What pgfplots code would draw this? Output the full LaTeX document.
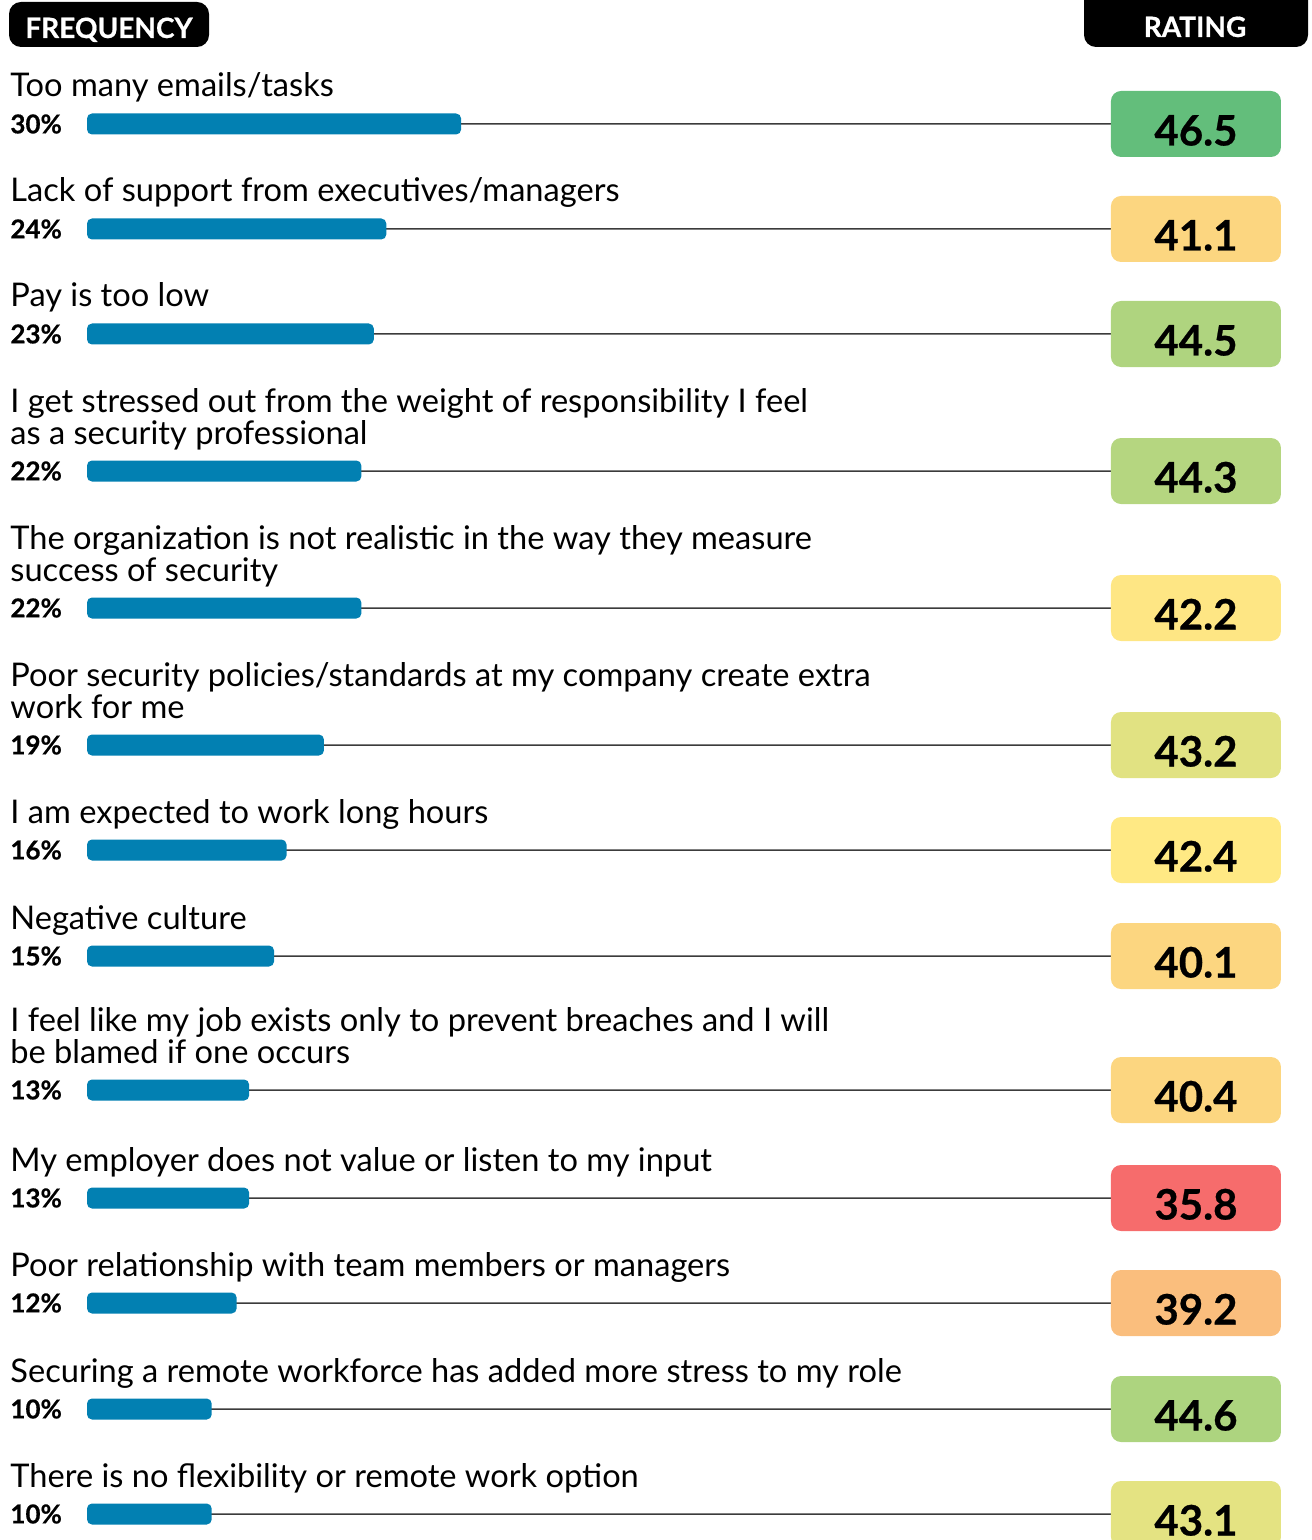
\documentclass[border=0pt]{standalone}
\usepackage{pgfplots}
\pgfplotsset{compat=1.18}
\usepackage{pgfplotstable}
\usepackage{fontspec}
\setmainfont{Lato}
\newfontfamily\heavy{Lato}[UprightFeatures={FakeBold=0.6}, BoldFeatures={FakeBold=0.6}]
\definecolor{barblue}{RGB}{2,128,178}
\definecolor{lineg}{RGB}{60,60,60}
\definecolor{c1}{RGB}{99,190,123}
\definecolor{c2}{RGB}{252,214,128}
\definecolor{c3}{RGB}{175,212,127}
\definecolor{c4}{RGB}{181,214,128}
\definecolor{c5}{RGB}{254,230,132}
\definecolor{c6}{RGB}{225,226,130}
\definecolor{c7}{RGB}{255,233,132}
\definecolor{c8}{RGB}{252,214,128}
\definecolor{c9}{RGB}{252,214,128}
\definecolor{c10}{RGB}{246,108,108}
\definecolor{c11}{RGB}{250,190,125}
\definecolor{c12}{RGB}{173,212,127}
\definecolor{c13}{RGB}{228,227,130}
\newcommand{\lab}{\fontsize{16.3}{17}\selectfont}
\pgfplotstableread{
idx y pct rating lx bx
1 124 30 46.5 -6.175 88.93
2 229 24 41.1 -6.175 88.93
3 334 23 44.5 -6.175 88.93
4 471 22 44.3 -6.175 88.93
5 608 22 42.2 -6.175 88.93
6 745 19 43.2 -6.175 88.93
7 850 16 42.4 -6.175 88.93
8 956 15 40.1 -6.175 88.93
9 1090 13 40.4 -6.175 88.93
10 1198 13 35.8 -6.175 88.93
11 1303 12 39.2 -6.175 88.93
12 1409 10 44.6 -6.175 88.93
13 1514 10 43.1 -6.175 88.93
}\data
\begin{document}
\begin{tikzpicture}
\begin{axis}[
  width=655.5pt, height=770pt, scale only axis, hide axis, clip=false,
  xmin=-6.977, xmax=98.155, ymin=0, ymax=1540, y dir=reverse,
  /pgf/number format/assume math mode=true,
]
\coordinate (SW) at (rel axis cs:0,0);
\coordinate (NE) at (rel axis cs:1,1);
% connector lines
\addplot[xbar, bar shift=0pt, bar width=0.75pt, fill=lineg, draw=none] table[x=bx, y=y]{\data};
% frequency bars
\addplot[xbar, bar shift=0pt, bar width=10.5pt, fill=barblue, draw=none, rounded corners=2.5pt] table[x=pct, y=y]{\data};
% percent labels
\addplot[draw=none, mark=none, point meta=explicit,
  nodes near coords={\pgfmathprintnumber{\pgfplotspointmeta}\%},
  every node near coord/.append style={anchor=west, inner sep=0pt, text=black, font=\heavy\bfseries\fontsize{13}{14}\selectfont}]
  table[x=lx, y=y, meta=pct]{\data};
% rating boxes
\pgfplotsinvokeforeach{1,...,13}{%
\addplot[draw=none, mark=none, point meta=explicit,
  x filter/.expression={\thisrow{idx}==#1 ? x : nan},
  nodes near coords={\pgfmathprintnumber[fixed,fixed zerofill,precision=1]{\pgfplotspointmeta}},
  every node near coord/.append style={anchor=center, fill=c#1, rounded corners=5pt,
    inner sep=0pt, text height=21.5pt, text depth=0pt, minimum width=85pt, minimum height=33pt,
    text=black, font=\heavy\bfseries\fontsize{21}{22}\selectfont}]
  table[x=bx, y=y, meta=rating]{\data};
}
% headers
\fill[black, rounded corners=6pt] (axis cs:{(9-87)/12.47},2) rectangle (axis cs:{(209-87)/12.47},47);
\node[anchor=base, text=white, font=\heavy\bfseries\fontsize{14}{15}\selectfont] at (axis cs:{(109-87)/12.47},38) {FREQUENCY};
\fill[black, rounded corners=6pt] (axis cs:{(1084-87)/12.47},-30) rectangle (axis cs:{(1308-87)/12.47},47);
\node[anchor=base, text=white, font=\heavy\bfseries\fontsize{14}{15}\selectfont] at (axis cs:{(1195-87)/12.47},37) {RATING};
% category labels
\def\lx{-6.175}
\node[anchor=base west, inner sep=0pt, font=\lab] at (axis cs:\lx,97) {Too many emails/tasks};
\node[anchor=base west, inner sep=0pt, font=\lab] at (axis cs:\lx,202) {Lack of support from executives/managers};
\node[anchor=base west, inner sep=0pt, font=\lab] at (axis cs:\lx,307) {Pay is too low};
\node[anchor=base west, inner sep=0pt, font=\lab] at (axis cs:\lx,412) {I get stressed out from the weight of responsibility I feel};
\node[anchor=base west, inner sep=0pt, font=\lab] at (axis cs:\lx,444) {as a security professional};
\node[anchor=base west, inner sep=0pt, font=\lab] at (axis cs:\lx,549) {The organization is not realistic in the way they measure};
\node[anchor=base west, inner sep=0pt, font=\lab] at (axis cs:\lx,581) {success of security};
\node[anchor=base west, inner sep=0pt, font=\lab] at (axis cs:\lx,686) {Poor security policies/standards at my company create extra};
\node[anchor=base west, inner sep=0pt, font=\lab] at (axis cs:\lx,718) {work for me};
\node[anchor=base west, inner sep=0pt, font=\lab] at (axis cs:\lx,823) {I am expected to work long hours};
\node[anchor=base west, inner sep=0pt, font=\lab] at (axis cs:\lx,929) {Negative culture};
\node[anchor=base west, inner sep=0pt, font=\lab] at (axis cs:\lx,1031) {I feel like my job exists only to prevent breaches and I will};
\node[anchor=base west, inner sep=0pt, font=\lab] at (axis cs:\lx,1063) {be blamed if one occurs};
\node[anchor=base west, inner sep=0pt, font=\lab] at (axis cs:\lx,1171) {My employer does not value or listen to my input};
\node[anchor=base west, inner sep=0pt, font=\lab] at (axis cs:\lx,1276) {Poor relationship with team members or managers};
\node[anchor=base west, inner sep=0pt, font=\lab] at (axis cs:\lx,1382) {Securing a remote workforce has added more stress to my role};
\node[anchor=base west, inner sep=0pt, font=\lab] at (axis cs:\lx,1487) {There is no flexibility or remote work option};
\end{axis}
\pgfresetboundingbox
\path (SW) rectangle (NE);
\end{tikzpicture}
\end{document}
